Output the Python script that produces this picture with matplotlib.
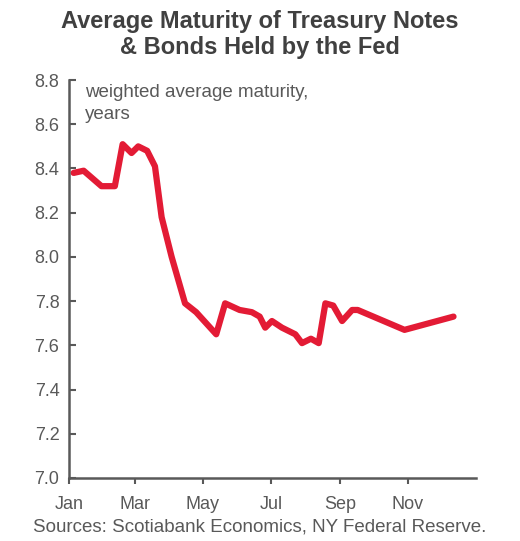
import matplotlib
matplotlib.use("Agg")
import matplotlib.pyplot as plt

# day of year / weighted average maturity (years)
days = [4, 13, 29, 41, 48, 56, 62, 70, 77, 83, 92, 104, 114, 132, 140, 153, 164,
        171, 176, 182, 191, 203, 209, 217, 224, 230, 237, 245, 254, 259, 301, 345]
wam = [8.38, 8.39, 8.32, 8.32, 8.51, 8.47, 8.50, 8.48, 8.41, 8.18, 8.00, 7.79,
       7.75, 7.65, 7.79, 7.76, 7.75, 7.73, 7.68, 7.71, 7.68, 7.65, 7.61, 7.63,
       7.61, 7.79, 7.78, 7.71, 7.76, 7.76, 7.67, 7.73]

month_days = [0, 59, 120, 181, 243, 304]
month_labels = ["Jan", "Mar", "May", "Jul", "Sep", "Nov"]
yticks = [7.0, 7.2, 7.4, 7.6, 7.8, 8.0, 8.2, 8.4, 8.6, 8.8]

grey = "#595959"
plt.rcParams["font.family"] = ["Liberation Sans", "DejaVu Sans"]

fig = plt.figure(figsize=(5.2, 5.41), dpi=100)
ax = fig.add_axes([0.133, 0.1165, 0.782, 0.7355])

ax.plot(days, wam, color="#E31B35", lw=4.5, solid_joinstyle="round",
        solid_capstyle="round")

ax.set_xlim(0, 365)
ax.set_ylim(7.0, 8.8)
ax.set_xticks(month_days)
ax.set_xticklabels(month_labels)
ax.set_yticks(yticks)
ax.set_yticklabels([f"{v:.1f}" for v in yticks])

for s in ["top", "right"]:
    ax.spines[s].set_visible(False)
for s in ["left", "bottom"]:
    ax.spines[s].set_color(grey)
    ax.spines[s].set_linewidth(1.8)
ax.tick_params(axis="y", direction="in", length=5, width=1.5, color=grey,
               labelcolor=grey, labelsize=13, pad=7)
ax.tick_params(axis="x", direction="out", length=4, width=1.5, color=grey,
               labelcolor=grey, labelsize=13, pad=9)

ax.text(0.04, 0.99, "weighted average maturity,\nyears", transform=ax.transAxes,
        ha="left", va="top", fontsize=13.5, color=grey, linespacing=1.35)

fig.text(0.5, 0.982, "Average Maturity of Treasury Notes\n& Bonds Held by the Fed",
         ha="center", va="top", fontsize=17, fontweight="bold", color="#404040",
         linespacing=1.2)
fig.text(0.5, 0.01, "Sources: Scotiabank Economics, NY Federal Reserve.",
         ha="center", va="bottom", fontsize=13.5, color=grey)

fig.savefig("out.png", dpi=100)
